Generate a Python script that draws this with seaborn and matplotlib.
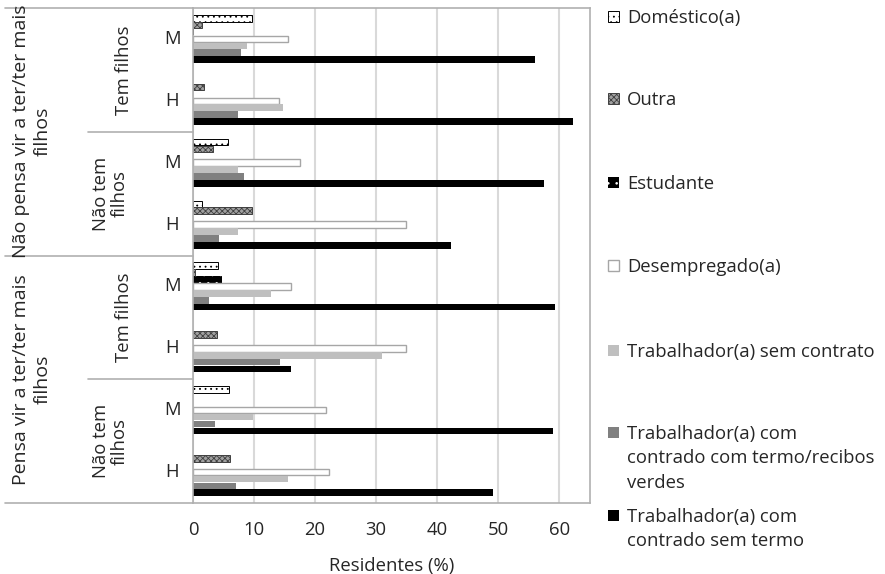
import numpy as np
import pandas as pd
import seaborn as sns
import matplotlib
matplotlib.use("Agg")
import matplotlib.pyplot as plt
from matplotlib.patches import Rectangle
from matplotlib.lines import Line2D
from matplotlib.transforms import blended_transform_factory

# ---------------- data (top to bottom) ----------------
outer_labels = ["Não pensa vir a ter/ter mais\nfilhos", "Pensa vir a ter/ter mais\nfilhos"]
middle_labels = ["Tem filhos", "Não tem\nfilhos", "Tem filhos", "Não tem\nfilhos"]
sexo = ["M", "H", "M", "H", "M", "H", "M", "H"]

series = [
    "Doméstico(a)",
    "Outra",
    "Estudante",
    "Desempregado(a)",
    "Trabalhador(a) sem contrato",
    "Trabalhador(a) com\ncontrado com termo/recibos\nverdes",
    "Trabalhador(a) com\ncontrado sem termo",
]

domestico = [9.6, 0.0, 5.8, 1.4, 4.1, 0.0, 5.9, 0.0]
outra = [1.5, 1.8, 3.3, 9.7, 0.3, 3.9, 0.0, 6.0]
estudante = [0.2, 0.0, 0.0, 0.0, 4.8, 0.0, 0.0, 0.0]
desempregado = [15.6, 14.0, 17.6, 34.9, 16.1, 34.9, 21.8, 22.2]
sem_contrato = [8.8, 14.7, 7.4, 7.3, 12.7, 30.9, 9.8, 15.6]
com_termo = [7.9, 7.3, 8.3, 4.3, 2.6, 14.3, 3.6, 7.1]
sem_termo = [56.0, 62.2, 57.5, 42.3, 59.2, 16.0, 58.9, 49.2]

xticks = [0, 10, 20, 30, 40, 50, 60]

values = [domestico, outra, estudante, desempregado, sem_contrato, com_termo, sem_termo]
cats = [f"g{i}" for i in range(len(sexo))]
rows = []
for s, vals in zip(series, values):
    for c, v in zip(cats, vals):
        rows.append({"cat": c, "serie": s, "valor": v})
df = pd.DataFrame(rows)

# ---------------- styles ----------------
styles = [
    dict(facecolor="white", edgecolor="black", hatch="...", linewidth=0.7),
    dict(facecolor="#a0a0a0", edgecolor="#404040", hatch="xxxxxx", linewidth=0.7),
    dict(facecolor="black", edgecolor="white", hatch="..", linewidth=0.0),
    dict(facecolor="white", edgecolor="#a6a6a6", hatch=None, linewidth=1.0),
    dict(facecolor="#bfbfbf", edgecolor="#bfbfbf", hatch=None, linewidth=0.0),
    dict(facecolor="#808080", edgecolor="#808080", hatch=None, linewidth=0.0),
    dict(facecolor="black", edgecolor="black", hatch=None, linewidth=0.0),
]

sns.set_style("white")
plt.rcParams["font.family"] = ["Open Sans", "DejaVu Sans"]
plt.rcParams["hatch.linewidth"] = 0.6
FS = 13.3

fig = plt.figure(figsize=(8.85, 5.74), dpi=100)
W, H = 885, 574
ax = fig.add_axes([193 / W, 1 - 503 / H, (590 - 193) / W, (503 - 8) / H])

palette = {s: st["facecolor"] for s, st in zip(series, styles)}
sns.barplot(data=df, y="cat", x="valor", hue="serie", order=cats, hue_order=series,
            palette=palette, orient="h", width=0.78, gap=0.04, legend=False, ax=ax,
            saturation=1)

for cont, st in zip(ax.containers, styles):
    for p in cont.patches:
        p.set_facecolor(st["facecolor"])
        p.set_edgecolor(st["edgecolor"])
        p.set_linewidth(st["linewidth"])
        if st["hatch"]:
            p.set_hatch(st["hatch"])
        if p.get_width() == 0:
            p.set_visible(False)

ax.set_xlim(0, 65)
ax.set_ylim(len(cats) - 0.5, -0.5)
ax.set_xticks(xticks)
ax.set_xticklabels([str(t) for t in xticks], fontsize=FS)
ax.set_yticks([])
ax.set_ylabel("")
ax.set_xlabel("Residentes (%)", fontsize=FS, labelpad=13)
ax.tick_params(axis="x", length=0, pad=13)
ax.grid(axis="x", color="#d9d9d9", linewidth=1.5)
ax.set_axisbelow(True)
for sp in ax.spines.values():
    sp.set_color("#b0b0b0")
    sp.set_linewidth(1.2)
    sp.set_visible(True)

# ---------------- hierarchical category labels ----------------
tr = blended_transform_factory(ax.transAxes, ax.transData)
def ax_x(px):
    return (px - 193) / (590 - 193)

for i, s in enumerate(sexo):
    ax.text(ax_x(172), i, s, transform=tr, ha="center", va="center", fontsize=FS)
for j, m in enumerate(middle_labels):
    xc = 124 if "\n" not in m else 110
    ax.text(ax_x(xc), 2 * j + 0.5, m, transform=tr, ha="center", va="center",
            rotation=90, fontsize=FS, multialignment="center", linespacing=1.05)
for k, o in enumerate(outer_labels):
    ax.text(ax_x(32), 4 * k + 1.5, o, transform=tr, ha="center", va="center",
            rotation=90, fontsize=FS + 0.7, multialignment="center", linespacing=1.3)

for yb, x0 in [(-0.5, 5), (1.5, 88), (3.5, 5), (5.5, 88), (7.5, 5)]:
    ax.add_line(Line2D([ax_x(x0), 0], [yb, yb], transform=tr, color="#b0b0b0",
                       linewidth=1.2, clip_on=False))

# ---------------- legend (drawn at Excel-like positions) ----------------
leg_y = [16, 98, 182, 265, 350, 432, 515]
for s, st, yc in zip(series, styles, leg_y):
    sz = 11
    r = Rectangle((608 / W, 1 - (yc + sz / 2) / H), sz / W, sz / H,
                  transform=fig.transFigure, facecolor=st["facecolor"],
                  edgecolor=st["edgecolor"] if st["linewidth"] > 0 or st["hatch"] else st["facecolor"],
                  linewidth=max(st["linewidth"], 0.0), hatch=st["hatch"])
    fig.add_artist(r)
    fig.text(627 / W, 1 - (yc - 7) / H, s, ha="left", va="top", fontsize=FS,
             linespacing=1.45)

fig.savefig("out.png", dpi=100)
